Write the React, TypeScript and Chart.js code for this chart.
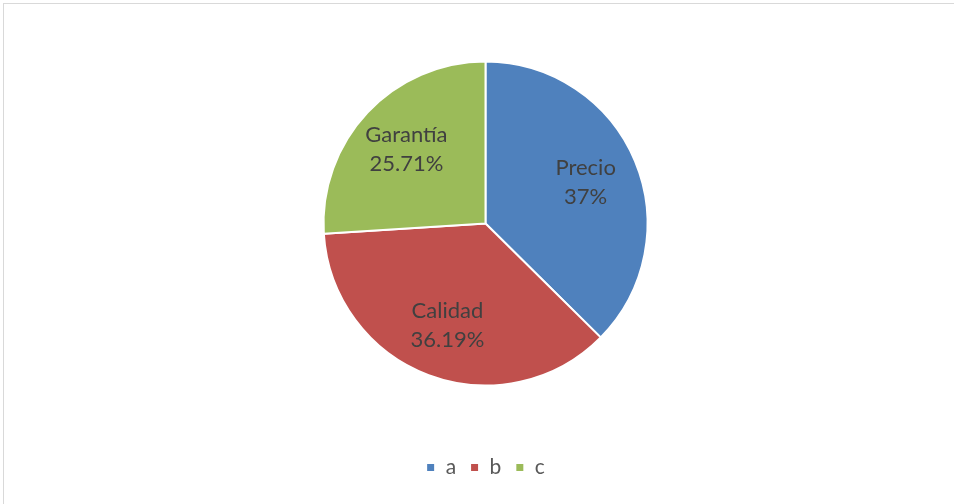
import React, { useEffect, useRef } from "react";
import { Chart, registerables } from "chart.js";

Chart.register(...registerables);

const legendLabels = ["a", "b", "c"];
const categoryNames = ["Precio", "Calidad", "Garantía"];
const values = [37, 36.19, 25.71];
const valueLabels = ["37%", "36.19%", "25.71%"];
const colors = ["#4F81BD", "#C0504D", "#9BBB59"];

const FONT = "Lato, 'Open Sans', 'DejaVu Sans', sans-serif";

const sliceLabelPlugin = {
  id: "sliceLabels",
  afterDatasetsDraw(chart: any) {
    const meta = chart.getDatasetMeta(0);
    const ctx = chart.ctx;
    ctx.save();
    ctx.fillStyle = "#404040";
    ctx.font = `22px ${FONT}`;
    ctx.textAlign = "center";
    ctx.textBaseline = "middle";
    meta.data.forEach((arc: any, i: number) => {
      const p = arc.getProps(["x", "y", "startAngle", "endAngle", "outerRadius"], true);
      const mid = (p.startAngle + p.endAngle) / 2;
      const r = p.outerRadius * 0.67;
      const cx = p.x + Math.cos(mid) * r;
      const cy = p.y + Math.sin(mid) * r;
      ctx.fillText(categoryNames[i], cx, cy - 14);
      ctx.fillText(valueLabels[i], cx, cy + 15);
    });
    ctx.restore();
  },
};

export default function App() {
  const ref = useRef<HTMLCanvasElement | null>(null);
  useEffect(() => {
    if (!ref.current) return;
    const chart = new Chart(ref.current, {
      type: "pie",
      data: {
        labels: legendLabels,
        datasets: [
          {
            data: values,
            backgroundColor: colors,
            borderColor: "#FFFFFF",
            borderWidth: 2,
            radius: 162,
          },
        ],
      },
      options: {
        animation: false,
        responsive: false,
        layout: { padding: { top: 4, bottom: 16, left: 17, right: 0 } },
        plugins: {
          tooltip: { enabled: false },
          legend: {
            position: "bottom",
            labels: {
              boxWidth: 9,
              boxHeight: 9,
              padding: 14,
              color: "#595959",
              font: { family: FONT, size: 21 },
            },
          },
        },
      },
      plugins: [sliceLabelPlugin],
    });
    return () => chart.destroy();
  }, []);
  return (
    <div
      style={{
        position: "absolute",
        left: 0,
        top: 0,
        width: 954,
        height: 504,
        overflow: "hidden",
        background: "#fff",
      }}
    >
      <div
        style={{
          position: "absolute",
          left: 3,
          top: 3,
          width: 980,
          height: 540,
          border: "1px solid #D9D9D9",
          boxSizing: "border-box",
        }}
      />
      <canvas
        ref={ref}
        width={954}
        height={504}
        style={{ position: "absolute", left: 0, top: 0, width: 954, height: 504 }}
      />
    </div>
  );
}
